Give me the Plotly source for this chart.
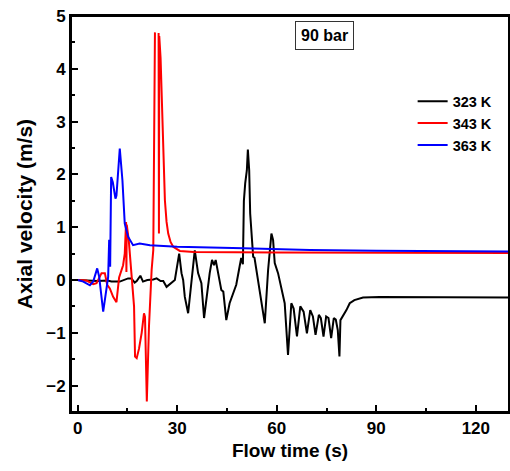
import plotly.graph_objects as go

# ---- data ----
t_323 = [0, 3, 6, 9, 10.2, 12.7, 13.7, 15.2, 16.2, 17.2, 17.8, 18.9, 19.7, 21, 22.8, 23.8, 25, 25.8,
         26.8, 28.3, 29.3, 30.6, 31.3, 31.8, 32.3, 33.3, 34.3, 35.3, 36.3, 37.3, 38.1, 38.8, 39.8,
         40.5, 41.1, 41.6, 42.3, 43.3, 43.9, 44.8, 45.8, 46.8, 47.8, 48.8, 49.3, 49.8, 50.1, 50.5,
         51.0, 51.3, 51.7, 52.0, 52.9, 53.3, 54.0, 55.4, 56.4, 57.4, 58.4, 58.9, 59.4, 60.4, 61.4,
         62.4, 63.4, 64.4, 65.1, 66.1, 67.1, 68.1, 69.1, 70.1, 70.9, 71.7, 72.7, 73.3, 74.1, 74.9,
         75.6, 76.4, 77.2, 77.8, 78.4, 78.9, 79.2, 79.9, 81, 82, 83.4, 86, 91, 130]
v_323 = [0, -0.01, -0.02, -0.01, -0.03, -0.03, 0.0, 0.03, 0.03, -0.05, -0.02, 0.08, -0.03, 0.0, 0.01, 0.03, -0.02, -0.02,
         -0.13, -0.06, 0.0, 0.5, 0.13, 0.0, -0.32, -0.63, -0.06, 0.56, 0.13, -0.06, -0.72, -0.32, 0.13,
         0.38, 0.28, 0.38, 0.13, -0.19, -0.22, -0.76, -0.44, -0.28, -0.09, 0.25, 0.42, 0.3, 1.5, 1.83,
         2.08, 2.47, 2.08, 1.26, 0.44, 0.42, 0.13, -0.44, -0.82, 0.19, 0.88, 0.76, 0.32, 0.13, -0.13,
         -0.44, -1.42, -0.44, -0.54, -1.07, -0.5, -0.6, -1.01, -0.57, -0.69, -1.04, -0.66, -0.72, -1.07, -0.69,
         -0.72, -1.1, -0.72, -0.75, -0.95, -1.45, -0.76, -0.69, -0.57, -0.44, -0.38, -0.33, -0.32, -0.33]

t_343 = [0, 2.7, 4.7, 5.7, 7.2, 8.2, 8.9, 9.7, 10.7, 11.7, 12.5, 13.7, 14.2, 14.6, 14.7, 14.8, 15.4,
         16.0, 16.5, 17.0, 17.3, 17.8, 18.5, 19.3, 20.0, 20.3, 20.85, 21.5, 22.3, 22.8, 23.3, None,
         24.4, 24.5, 24.6, 25.0, 25.3, 25.6, 25.8, 26.1, 26.3, 26.8, 27.3, 28.0, 28.8, 30.8, 35, 60, 130]
v_343 = [0, -0.01, -0.08, -0.06, 0.13, 0.13, -0.09, -0.16, -0.32, -0.42, 0.05, 0.28, 0.5, 1.1, 0.15, 1.05, 0.76,
         0.3, -0.2, -0.5, -1.45, -1.48, -1.3, -1.0, -0.63, -0.7, -2.3, -0.88, 0.19, 0.57, 4.69, None,
         4.68, 0.88, 4.62, 4.2, 3.65, 2.9, 2.4, 1.9, 1.51, 1.1, 0.88, 0.72, 0.63, 0.55, 0.53, 0.52, 0.51]

t_363 = [0, 1.7, 3.7, 4.7, 5.9, 6.5, 7.7, 8.7, 9.2, 9.5, 9.8, 10.1, 10.6, 11.4, 11.7, 12.7, 13.5,
         14.2, 15.2, 16.7, 18.7, 21.8, 30, 50, 70, 90, 130]
v_363 = [0, -0.03, -0.1, -0.03, 0.22, 0.06, -0.6, -0.19, 0.06, 0.76, 0.25, 1.95, 1.85, 1.54, 1.6, 2.49, 1.89,
         1.07, 0.82, 0.66, 0.69, 0.66, 0.63, 0.6, 0.57, 0.555, 0.54]

series_names = ["323 K", "343 K", "363 K"]
series_colors = ["#000000", "#ff0000", "#0000ff"]
x_tickvals = [0, 30, 60, 90, 120]
y_tickvals = [-2, -1, 0, 1, 2, 3, 4, 5]

FONT = "Liberation Sans, Arial, sans-serif"

fig = go.Figure()
for name, color, t, v in zip(series_names, series_colors,
                             [t_323, t_343, t_363], [v_323, v_343, v_363]):
    fig.add_trace(go.Scatter(x=t, y=v, mode="lines", name=name,
                             line=dict(color=color, width=2), connectgaps=False))

axis_common = dict(
    showgrid=False, zeroline=False, showline=True, linecolor="black", linewidth=2,
    mirror=True, ticks="inside", ticklen=7, tickwidth=1.5, tickcolor="black",
    automargin=False,
    tickfont=dict(family=FONT, size=17, color="black", weight="bold"),
)

fig.update_xaxes(range=[-2, 130], tickvals=x_tickvals,
                 minor=dict(dtick=15, tick0=0, ticks="inside", ticklen=4, tickwidth=1.5, tickcolor="black"),
                 title=dict(text="Flow time (s)", font=dict(family=FONT, size=19, color="black", weight="bold"),
                            standoff=6),
                 **axis_common)
fig.update_yaxes(range=[-2.5, 5], tickvals=y_tickvals,
                 minor=dict(dtick=0.5, tick0=0, ticks="inside", ticklen=4, tickwidth=1.5, tickcolor="black"),
                 title=dict(text="Axial velocity (m/s)", font=dict(family=FONT, size=21, color="black", weight="bold"),
                            standoff=8),
                 **axis_common)

# plot frame
fig.add_shape(type="rect", xref="paper", yref="paper", x0=0, x1=1, y0=0, y1=1,
              line=dict(color="black", width=2), fillcolor="rgba(0,0,0,0)", layer="above")

fig.add_annotation(text="90 bar", xref="paper", yref="paper", x=0.578, y=0.987,
                   showarrow=False, font=dict(family=FONT, size=16, color="black", weight="bold"),
                   bordercolor="#333333", borderwidth=1, borderpad=5, bgcolor="white")

fig.update_layout(
    width=510, height=471,
    margin=dict(l=71, r=1, t=16, b=59),
    paper_bgcolor="white", plot_bgcolor="white",
    showlegend=True,
    legend=dict(x=0.78, y=0.825, xanchor="left", yanchor="top",
                font=dict(family=FONT, size=14.5, color="black", weight="bold"),
                bgcolor="rgba(0,0,0,0)", tracegroupgap=0),
)

fig.write_html("out.html", config={"displayModeBar": False},
               post_script="document.body.style.margin='0';document.body.style.overflow='hidden';")
